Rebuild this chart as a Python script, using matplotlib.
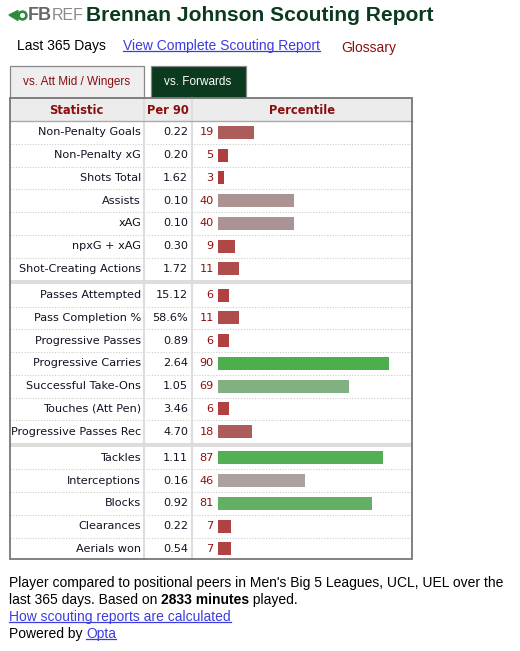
import matplotlib
matplotlib.use("Agg")
import matplotlib.pyplot as plt
from matplotlib.colors import LinearSegmentedColormap
from matplotlib.patches import Rectangle, Polygon, Circle

# report data
player = "Brennan Johnson"
statistics = [
    "Non-Penalty Goals", "Non-Penalty xG", "Shots Total", "Assists", "xAG",
    "npxG + xAG", "Shot-Creating Actions",
    "Passes Attempted", "Pass Completion %", "Progressive Passes",
    "Progressive Carries", "Successful Take-Ons", "Touches (Att Pen)",
    "Progressive Passes Rec",
    "Tackles", "Interceptions", "Blocks", "Clearances", "Aerials won",
]
per90 = ["0.22", "0.20", "1.62", "0.10", "0.10", "0.30", "1.72",
         "15.12", "58.6%", "0.89", "2.64", "1.05", "3.46", "4.70",
         "1.11", "0.16", "0.92", "0.22", "0.54"]
percentiles = [19, 5, 3, 40, 40, 9, 11,
               6, 11, 6, 90, 69, 6, 18,
               87, 46, 81, 7, 7]
group_sizes = [7, 7, 5]
minutes = 2833

# colours
DARK_GREEN = "#0b3a1f"
DARK_RED = "#8b0e0e"
LINK = "#3c3ce0"
pct_cmap = LinearSegmentedColormap.from_list("pct", [
    (0.0, "#b23434"), (0.2, "#ad5f5f"), (0.4, "#ac9393"), (0.5, "#ababab"),
    (0.7, "#7fb07f"), (0.9, "#4cae4c"), (1.0, "#3aae3a")])

W, H = 520, 651
fig = plt.figure(figsize=(W / 100, H / 100), dpi=100)
ax = fig.add_axes([0, 0, 1, 1])
ax.set_xlim(0, W)
ax.set_ylim(H, 0)
ax.axis("off")

sans = "Liberation Sans"
table_font = "DejaVu Sans"
tfs = 8.1

# logo + title
ax.add_patch(Polygon([(9, 15), (18, 10.5), (18, 20.5)], closed=True, color="#2e8b3e"))
ax.add_patch(Circle((22.5, 15.5), 4.5, color="#2e8b3e"))
ax.add_patch(Circle((22.5, 15.5), 1.8, color="white"))
ax.text(28, 16, "FB", fontsize=13, fontweight="bold", color="#666666",
        family=sans, va="center")
ax.text(52, 16, "REF", fontsize=11.5, color="#8a8a8a", family=sans, va="center",
        fontstretch="condensed")
ax.text(86, 15.5, f"{player} Scouting Report", fontsize=15.1, fontweight="bold",
        color=DARK_GREEN, family=sans, va="center")

fig.canvas.draw()
renderer = fig.canvas.get_renderer()
inv = ax.transData.inverted()


def underline(t, offset=0.0, color=LINK):
    bb = t.get_window_extent(renderer)
    (x0, y0), (x1, y1) = inv.transform([(bb.x0, bb.y0), (bb.x1, bb.y1)])
    ax.plot([x0, x1], [y0 - 2 + offset, y0 - 2 + offset], color=color, lw=0.9)


def right_edge(t):
    bb = t.get_window_extent(renderer)
    return inv.transform([(bb.x1, bb.y0)])[0][0]


# sub-header
ax.text(17, 46, "Last 365 Days", fontsize=10, color="black", family=sans, va="center")
t = ax.text(123, 46, "View Complete Scouting Report", fontsize=10, color=LINK,
            family=sans, va="center")
underline(t)
ax.text(341, 48, "Glossary", fontsize=10, color=DARK_RED, family=sans, va="center")

# tabs
ax.add_patch(Rectangle((9.5, 66), 134, 32, facecolor="#eeeeee", edgecolor="#888888", lw=0.9))
ax.text(76.5, 82, "vs. Att Mid / Wingers", fontsize=8.5, color=DARK_RED, family=sans,
        ha="center", va="center")
ax.add_patch(Rectangle((151, 66), 94.5, 32, facecolor=DARK_GREEN, edgecolor="#888888", lw=0.9))
ax.text(198, 82, "vs. Forwards", fontsize=8.5, color="white", family=sans,
        ha="center", va="center")

# table frame
tx0, tx1 = 9.5, 411.5
ty0, thead, ty1 = 98, 121, 559
col1, col2 = 144, 192
row_h = 22.75
sep_h = 3.5

ax.add_patch(Rectangle((tx0, ty0), tx1 - tx0, thead - ty0, facecolor="#ececec",
                       edgecolor="none", zorder=1))
ax.plot([tx0, tx1], [thead, thead], color="#aaaaaa", lw=1, zorder=3)
for label, xc in [("Statistic", (tx0 + col1) / 2), ("Per 90", (col1 + col2) / 2),
                  ("Percentile", (col2 + tx1) / 2)]:
    ax.text(xc, 110, label, fontsize=8.3, fontweight="bold", color=DARK_RED,
            family=table_font, ha="center", va="center")

# row positions
centers = []
y = thead
for g, n in enumerate(group_sizes):
    if g > 0:
        ax.add_patch(Rectangle((tx0, y), tx1 - tx0, sep_h, facecolor="#dddddd",
                               edgecolor="none", zorder=2))
        y += sep_h
    for i in range(n):
        centers.append(y + row_h / 2)
        y += row_h
        if i < n - 1:
            ax.plot([tx0, tx1], [y, y], color="#cccccc", lw=0.8, ls=(0, (1, 1.5)), zorder=2)

for xc in (col1, col2):
    ax.plot([xc, xc], [ty0, ty1], color="#dddddd", lw=1.5, zorder=2.5)
ax.add_patch(Rectangle((tx0, ty0), tx1 - tx0, ty1 - ty0, facecolor="none",
                       edgecolor="#777777", lw=1.3, zorder=4))

for yc, name, val, pct in zip(centers, statistics, per90, percentiles):
    ax.text(141, yc, name, fontsize=tfs, color="#111122", family=table_font,
            ha="right", va="center")
    ax.text(188, yc, val, fontsize=tfs, color="#111122", family=table_font,
            ha="right", va="center")
    ax.text(213.5, yc, str(pct), fontsize=tfs, color=DARK_RED, family=table_font,
            ha="right", va="center")

# percentile bars
bx0, bx1 = 218, 408
bax = fig.add_axes([bx0 / W, 1 - ty1 / H, (bx1 - bx0) / W, (ty1 - ty0) / H])
bax.set_xlim(0, 100)
bax.set_ylim(ty1, ty0)
bax.axis("off")
bax.patch.set_alpha(0)
bax.barh(centers, percentiles, height=13, left=0,
         color=[pct_cmap(p / 100) for p in percentiles])

# footer
fs = 10.0
ax.text(9, 583, "Player compared to positional peers in Men's Big 5 Leagues, UCL, UEL over the",
        fontsize=fs, family=sans, va="center", color="black")
t1 = ax.text(9, 600, "last 365 days. Based on ", fontsize=fs, family=sans, va="center")
x = right_edge(t1)
t2 = ax.text(x, 600, f"{minutes} minutes", fontsize=fs, family=sans, va="center",
             fontweight="bold")
x = right_edge(t2)
ax.text(x, 600, " played.", fontsize=fs, family=sans, va="center")
t3 = ax.text(9, 617, "How scouting reports are calculated", fontsize=fs, family=sans,
             va="center", color=LINK)
underline(t3)
t4 = ax.text(9, 634, "Powered by ", fontsize=fs, family=sans, va="center")
x = right_edge(t4)
t5 = ax.text(x, 634, "Opta", fontsize=fs, family=sans, va="center", color=LINK)
underline(t5)

fig.savefig("out.png", dpi=100)
